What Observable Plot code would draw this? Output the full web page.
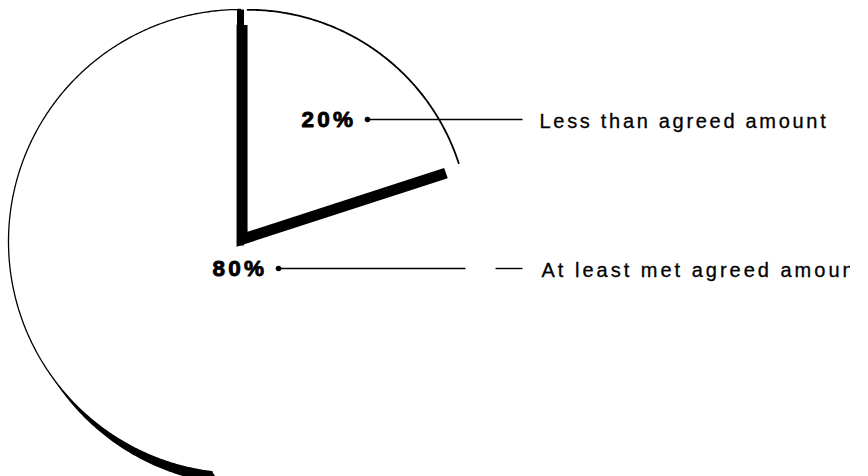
<!DOCTYPE html>
<html><head><meta charset="utf-8">
<script src="https://cdn.jsdelivr.net/npm/d3@7"></script>
<script src="https://cdn.jsdelivr.net/npm/@observablehq/plot@0.6"></script>
<style>
html,body{margin:0;padding:0;background:#fff;}
#chart svg{display:block;background:#fff;}
</style></head><body><div id="chart"></div>
<script>
// ---- data ----
const categories = ["Less than agreed amount", "At least met agreed amount"];
const shares = [20, 80];
const shareLabels = ["20%", "80%"];

// ---- layout ----
const W = 868, H = 476, clipRight = 18;
const center = {x: 240, y: 241}, R = 232, explode = 12, R20 = R - 10;
const shadow20 = {dx: -11, dy: 15}, shadow80 = {dx: 8, dy: 12};
const deg = Math.PI / 180;
const arc80VisibleStart = 187 * deg;   // part of the 80% arc visible in the scan
const crescentEnd = 236 * deg;
const labelLayout = [
  {pctX: 301, y: 119, dotX: 367, segs: [[367, 522]], textX: 539, spacing: 2.7},
  {pctX: 212, y: 268, dotX: 278, segs: [[278, 465], [495, 522]], textX: 541, spacing: 3.0}
];

// ---- geometry from the data ----
const pie = d3.pie().sort(null).startAngle(0).endAngle(2 * Math.PI)(shares);
const [s20, s80] = pie;
const noOff = {dx: 0, dy: 0};
const pt = (c, r, a, o = noOff) => ({x: c.x + o.dx + r * Math.sin(a), y: c.y + o.dy - r * Math.cos(a)});
function arcPts(c, r, a0, a1, o = noOff) {
  const n = Math.max(2, Math.ceil(Math.abs(a1 - a0) / deg * 2));
  return d3.range(n + 1).map(i => pt(c, r, a0 + (a1 - a0) * i / n, o));
}
const mid20 = (s20.startAngle + s20.endAngle) / 2;
const c20 = {x: center.x + explode * Math.sin(mid20), y: center.y - explode * Math.cos(mid20)};
const sector20 = o => [
  {x: c20.x + o.dx, y: c20.y + o.dy},
  ...arcPts(c20, R20, s20.startAngle, s20.endAngle, o),
  {x: c20.x + o.dx, y: c20.y + o.dy}
];
const shadow20Pts = sector20(shadow20);
const slice20Pts = sector20(noOff);
const arc20Pts = arcPts(c20, R20, s20.startAngle, s20.endAngle);
const arc80Pts = arcPts(center, R, arc80VisibleStart, s80.endAngle);
const crescentPts = [
  ...arcPts(center, R, arc80VisibleStart, crescentEnd),
  ...arcPts(center, R, crescentEnd, arc80VisibleStart, shadow80)
];
const edge80 = [{x: center.x, y: center.y + 4}, pt(center, R, s80.endAngle)];

const pctData = shareLabels.map((t, i) => ({t, x: labelLayout[i].pctX, y: labelLayout[i].y}));
const dotData = labelLayout.map(l => ({x: l.dotX, y: l.y}));
const segData = labelLayout.flatMap(l => l.segs.map(([a, b]) => ({x1: a, x2: b, y: l.y})));
const catData = categories.map((t, i) => ({t, x: labelLayout[i].textX, y: labelLayout[i].y}));

const font = "'Liberation Sans', Arial, Helvetica, sans-serif";
const chart = Plot.plot({
  width: W, height: H,
  marginTop: 0, marginBottom: 0, marginLeft: 0, marginRight: clipRight,
  x: {domain: [0, W - clipRight], axis: null},
  y: {domain: [0, H], range: [0, H], axis: null},
  marks: [
    Plot.line(crescentPts, {x: "x", y: "y", fill: "black", stroke: "none"}),
    Plot.line(arc80Pts, {x: "x", y: "y", stroke: "black", strokeWidth: 1.3}),
    Plot.line(edge80, {x: "x", y: "y", stroke: "black", strokeWidth: 7, strokeLinecap: "butt"}),
    Plot.line(shadow20Pts, {x: "x", y: "y", fill: "black", stroke: "none"}),
    Plot.line(slice20Pts, {x: "x", y: "y", fill: "white", stroke: "none"}),
    Plot.line(arc20Pts, {x: "x", y: "y", stroke: "black", strokeWidth: 1.8}),
    Plot.link(segData, {x1: "x1", x2: "x2", y1: "y", y2: "y", stroke: "black", strokeWidth: 1.4}),
    Plot.dot(dotData, {x: "x", y: "y", r: 2.8, fill: "black", stroke: "none"}),
    Plot.text(pctData, {x: "x", y: "y", text: "t", textAnchor: "start", fontSize: 22.5, fontWeight: "bold", fontFamily: font, fill: "black", stroke: "black", strokeWidth: 0.9}),
    Plot.text(catData, {x: "x", y: "y", dy: 2, text: "t", textAnchor: "start", fontSize: 20, fontFamily: font, fill: "black", stroke: "black", strokeWidth: 0.3, clip: true})
  ]
});
document.getElementById("chart").appendChild(chart);
d3.select(chart).selectAll("text").each(function() {
  const s = this.textContent;
  if (shareLabels.includes(s)) this.setAttribute("letter-spacing", "3.2px");
  else {
    const i = categories.indexOf(s);
    if (i >= 0) this.setAttribute("letter-spacing", labelLayout[i].spacing + "px");
  }
});
</script></body></html>
